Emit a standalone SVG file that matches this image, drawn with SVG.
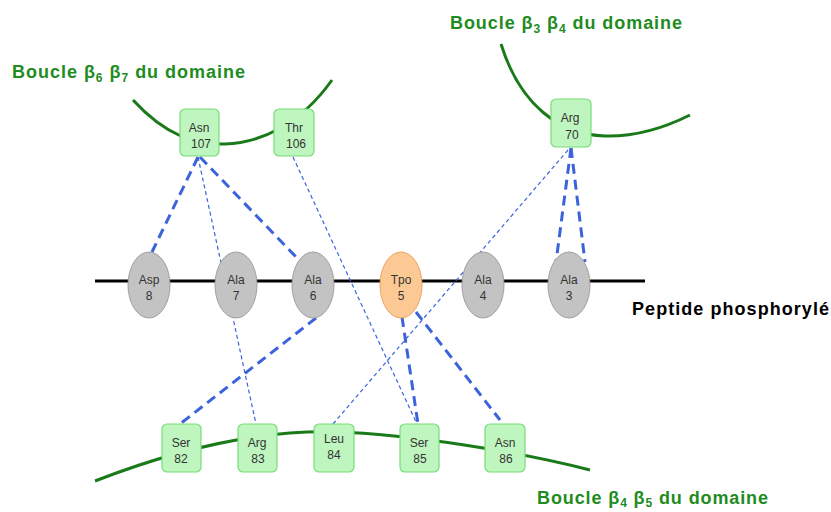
<svg xmlns="http://www.w3.org/2000/svg" width="831" height="512" viewBox="0 0 831 512">
<style>
.loop{fill:none;stroke:#1a7a1a;stroke-width:3}
.box{fill:#bff5bf;stroke:#77dd77;stroke-width:1.2}
.res{fill:#c3c3c3;stroke:#a0a0a0;stroke-width:1}
.tpo{fill:#fcc995;stroke:#e9a463;stroke-width:1}
.lbl{font-family:"Liberation Sans",Arial,sans-serif;font-size:12px;fill:#333;text-anchor:middle}
.title{font-family:"Liberation Sans",Arial,sans-serif;font-size:18px;font-weight:bold;fill:#1e8c1e}
.sub{font-size:12px}
.thick{stroke:#3b63dc;stroke-width:3;stroke-dasharray:10,6;fill:none}
.thin{stroke:#3b63dc;stroke-width:1.2;stroke-dasharray:4,3;fill:none}
</style>
<rect width="831" height="512" fill="#fff"/>
<g id="backbone">
<line x1="95" y1="281" x2="645" y2="281" stroke="#000" stroke-width="3"/>
</g>
<g id="loops">
<path class="loop" d="M133,100 C165,135 195,145 225,144 C260,143 300,125 332,80"/>
<path class="loop" d="M501,44 C520,105 560,135 605,136 C640,137 670,125 690,115"/>
<path class="loop" d="M95,481 C180,448 260,430 335,432 C410,434 520,452 590,470"/>
</g>
<g id="connectors">
<line class="thick" x1="198" y1="157" x2="152" y2="252"/>
<line class="thick" x1="200" y1="157" x2="297" y2="258"/>
<line class="thin" x1="198" y1="157" x2="256" y2="424"/>
<line class="thin" x1="293" y1="157" x2="417" y2="424"/>
<line class="thin" x1="568" y1="150" x2="333" y2="424"/>
<line class="thick" x1="571" y1="148" x2="556" y2="262"/>
<line class="thick" x1="571" y1="148" x2="585" y2="262"/>
<line class="thick" x1="316" y1="318" x2="180" y2="424"/>
<line class="thick" x1="402" y1="317" x2="418" y2="424"/>
<line class="thick" x1="416" y1="312" x2="500" y2="420"/>
</g>
<g id="asp8"><ellipse class="res" cx="149" cy="285" rx="21" ry="33"/><text class="lbl" x="149" y="284">Asp</text><text class="lbl" x="149" y="300">8</text></g>
<g id="ala7"><ellipse class="res" cx="236" cy="285" rx="21" ry="33"/><text class="lbl" x="236" y="284">Ala</text><text class="lbl" x="236" y="300">7</text></g>
<g id="ala6"><ellipse class="res" cx="313" cy="285" rx="21" ry="33"/><text class="lbl" x="313" y="284">Ala</text><text class="lbl" x="313" y="300">6</text></g>
<g id="tpo5"><ellipse class="tpo" cx="401" cy="285" rx="21" ry="33"/><text class="lbl" x="401" y="284">Tpo</text><text class="lbl" x="401" y="300">5</text></g>
<g id="ala4"><ellipse class="res" cx="483" cy="285" rx="21" ry="33"/><text class="lbl" x="483" y="284">Ala</text><text class="lbl" x="483" y="300">4</text></g>
<g id="ala3"><ellipse class="res" cx="569" cy="285" rx="21" ry="33"/><text class="lbl" x="569" y="284">Ala</text><text class="lbl" x="569" y="300">3</text></g>
<g id="asn107"><rect class="box" x="180" y="109" width="39" height="47" rx="5"/><text class="lbl" x="199" y="132">Asn</text><text class="lbl" x="201" y="148">107</text></g>
<g id="thr106"><rect class="box" x="274" y="109" width="40" height="47" rx="5"/><text class="lbl" x="294" y="132">Thr</text><text class="lbl" x="296" y="148">106</text></g>
<g id="arg70"><rect class="box" x="551" y="99" width="40" height="48" rx="5"/><text class="lbl" x="570" y="122">Arg</text><text class="lbl" x="572" y="139">70</text></g>
<g id="ser82"><rect class="box" x="162" y="424" width="39" height="48" rx="5"/><text class="lbl" x="181" y="447">Ser</text><text class="lbl" x="181" y="463">82</text></g>
<g id="arg83"><rect class="box" x="238" y="424" width="39" height="48" rx="5"/><text class="lbl" x="257" y="447">Arg</text><text class="lbl" x="258" y="463">83</text></g>
<g id="leu84"><rect class="box" x="314" y="424" width="40" height="48" rx="5"/><text class="lbl" x="334" y="443">Leu</text><text class="lbl" x="334" y="459">84</text></g>
<g id="ser85"><rect class="box" x="400" y="424" width="39" height="48" rx="5"/><text class="lbl" x="419" y="447">Ser</text><text class="lbl" x="420" y="463">85</text></g>
<g id="asn86"><rect class="box" x="485" y="424" width="40" height="48" rx="5"/><text class="lbl" x="505" y="447">Asn</text><text class="lbl" x="506" y="463">86</text></g>
<g id="labels">
<text class="title" x="12" y="78" textLength="233" lengthAdjust="spacing">Boucle β<tspan class="sub" dy="4">6</tspan><tspan dy="-4"> β</tspan><tspan class="sub" dy="4">7</tspan><tspan dy="-4"> du domaine</tspan></text>
<text class="title" x="450" y="29" textLength="232" lengthAdjust="spacing">Boucle β<tspan class="sub" dy="4">3</tspan><tspan dy="-4"> β</tspan><tspan class="sub" dy="4">4</tspan><tspan dy="-4"> du domaine</tspan></text>
<text class="title" x="537" y="504" textLength="231" lengthAdjust="spacing">Boucle β<tspan class="sub" dy="3">4</tspan><tspan dy="-3"> β</tspan><tspan class="sub" dy="3">5</tspan><tspan dy="-3"> du domaine</tspan></text>
<text x="632" y="315" font-family="'Liberation Sans',Arial,sans-serif" font-size="18" font-weight="bold" fill="#000" textLength="197" lengthAdjust="spacing">Peptide phosphorylé</text>
</g>
</svg>
